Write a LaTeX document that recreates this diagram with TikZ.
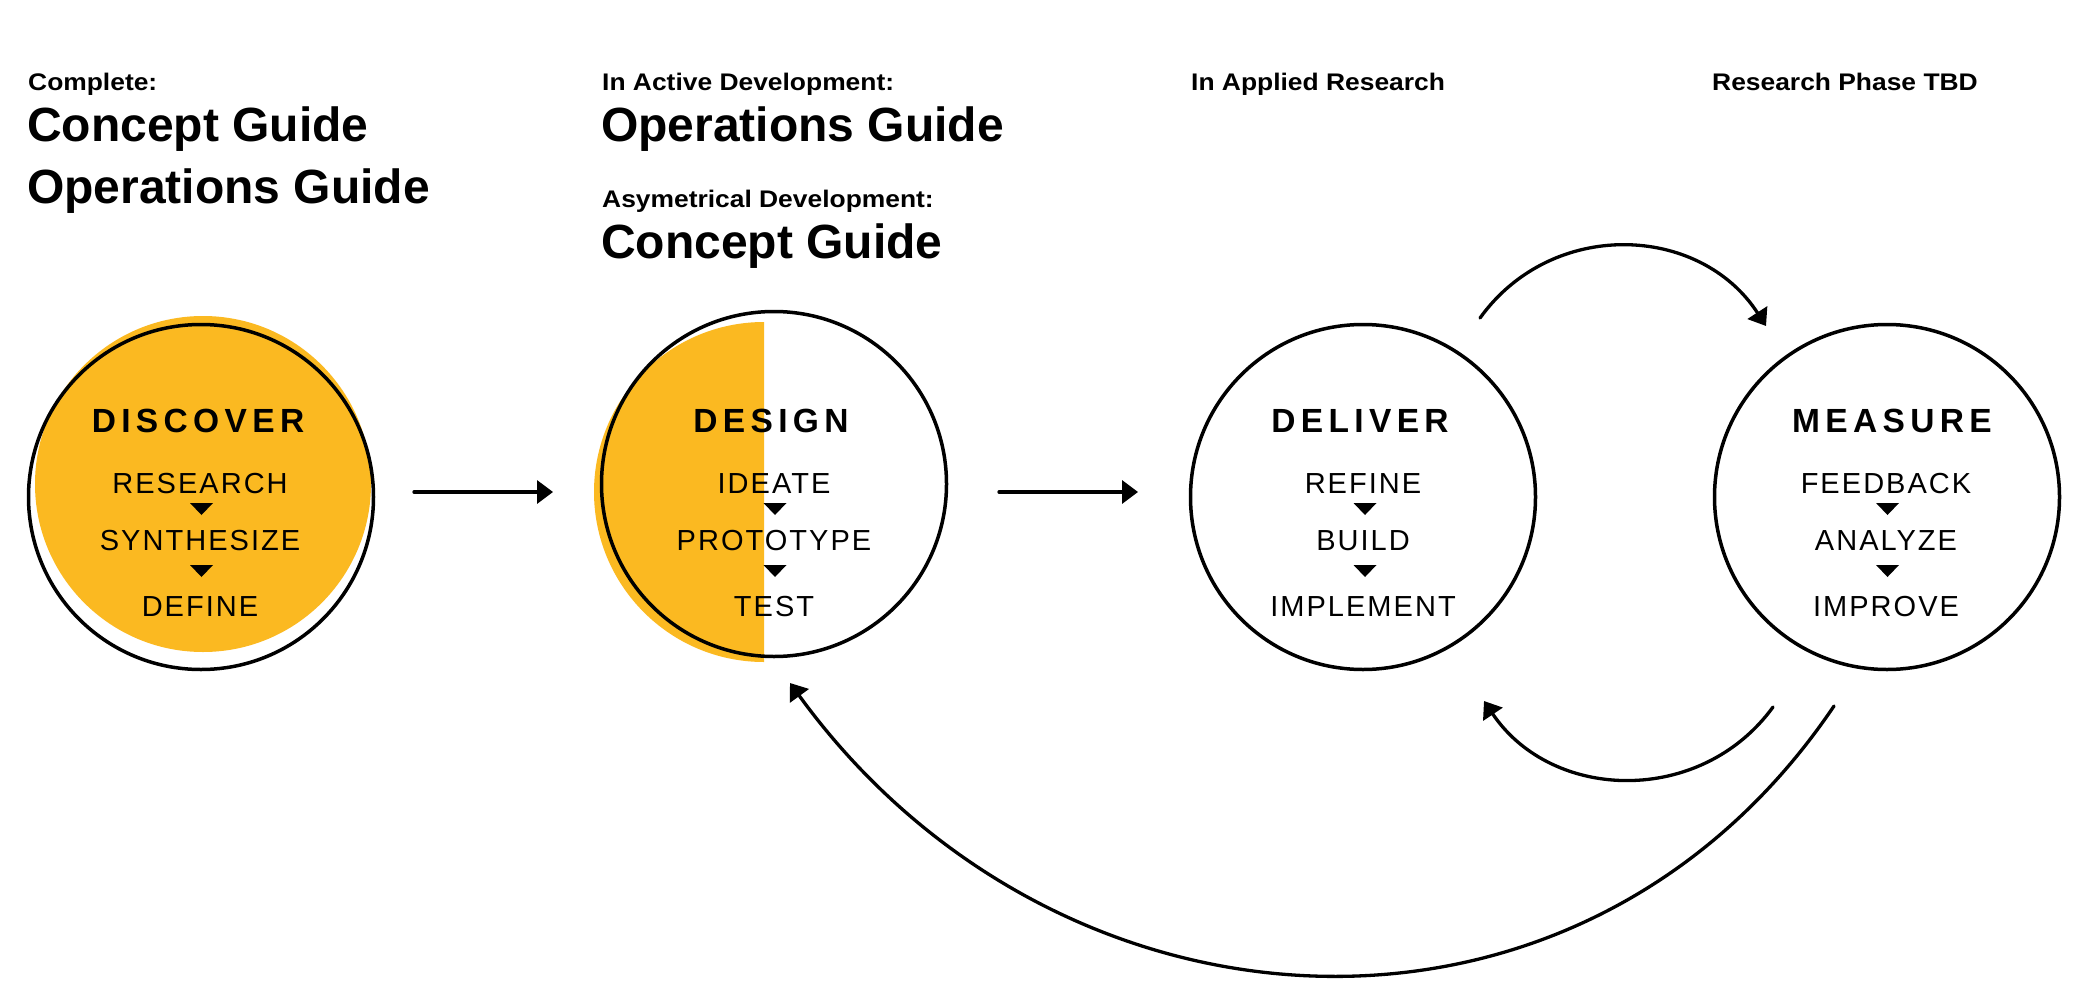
\documentclass[tikz,border=0pt]{standalone}
\usepackage{fontspec}
\setmainfont{Liberation Sans}
\newfontfamily\headsmall[FakeStretch=1.1]{Liberation Sans}
\newfontfamily\circtitle[LetterSpace=16]{Liberation Sans}
\newfontfamily\circsub[LetterSpace=7]{Liberation Sans}
\usetikzlibrary{arrows.meta}
\definecolor{yel}{RGB}{251,185,33}
\begin{document}
\begin{tikzpicture}[x=1pt,y=-1pt,
  hsmall/.style={anchor=base west, inner sep=0pt, font=\headsmall\bfseries\fontsize{24}{28}\selectfont},
  hbig/.style={anchor=base west, inner sep=0pt, font=\bfseries\fontsize{48}{52}\selectfont},
  stage/.style={circle, draw, line width=3.5pt, minimum size=345pt, inner sep=0pt},
  ttl/.style={anchor=base, inner sep=0pt, font=\circtitle\bfseries\fontsize{33.5}{36}\selectfont},
  sub/.style={anchor=base, inner sep=0pt, font=\circsub\fontsize{29}{32}\selectfont},
  flow/.style={line width=3.3pt, line cap=round, -{Triangle[length=16pt,width=23pt]}},
  tri/.pic={\fill (-11.5,-6) -- (11.5,-6) -- (0,6) -- cycle;}
]
\useasboundingbox (0,0) rectangle (2082,1006);
\fill[white] (0,0) rectangle (2082,1006);

% headings
\node[hsmall] (h1) at (28,91) {Complete:};
\node[hbig] (h2) at (27,142) {Concept Guide};
\node[hbig] (h3) at (27,203) {Operations Guide};
\node[hsmall] (h4) at (602,91) {In Active Development:};
\node[hbig] (h5) at (601,142) {Operations Guide};
\node[hsmall] (h6) at (602,207) {Asymetrical Development:};
\node[hbig] (h7) at (601,258) {Concept Guide};
\node[hsmall] (h8) at (1191,91) {In Applied Research};
\node[hsmall] (h9) at (1712,91) {Research Phase TBD};

% yellow fills
\fill[yel] (203,484) circle[radius=168pt];
\begin{scope}
  \clip (560,300) rectangle (764,700);
  \fill[yel] (764,492) circle[radius=170pt];
\end{scope}

% stage circles
\node[stage] (discover) at (201,497) {};
\node[stage] (design) at (774,484) {};
\node[stage] (deliver) at (1363,497) {};
\node[stage] (measure) at (1887,497) {};

% DISCOVER
\node[ttl] (d0) at (198,432) {DISCOVER};
\node[sub] (d1) at (200,493) {RESEARCH};
\pic at (201.5,509) {tri};
\node[sub] (d2) at (200,550) {SYNTHESIZE};
\pic at (201.5,571) {tri};
\node[sub] (d3) at (200,616) {DEFINE};

% DESIGN
\node[ttl] (e0) at (771,432) {DESIGN};
\node[sub] (e1) at (774,493) {IDEATE};
\pic at (775,509) {tri};
\node[sub] (e2) at (774,550) {PROTOTYPE};
\pic at (775,571) {tri};
\node[sub] (e3) at (774,616) {TEST};

% DELIVER
\node[ttl] (l0) at (1360,432) {DELIVER};
\node[sub] (l1) at (1363,493) {REFINE};
\pic at (1365,509) {tri};
\node[sub] (l2) at (1363,550) {BUILD};
\pic at (1365,571) {tri};
\node[sub] (l3) at (1363,616) {IMPLEMENT};

% MEASURE
\node[ttl] (m0) at (1892,432) {MEASURE};
\node[sub] (m1) at (1886,493) {FEEDBACK};
\pic at (1887.5,509) {tri};
\node[sub] (m2) at (1886,550) {ANALYZE};
\pic at (1887.5,571) {tri};
\node[sub] (m3) at (1886,616) {IMPROVE};

% connectors
\coordinate (a1s) at (414,492);
\coordinate (a1e) at (553,492);
\coordinate (a2s) at (999,492);
\coordinate (a2e) at (1138,492);
\coordinate (t1) at (1480,318);
\coordinate (t2) at (1766,326);
\coordinate (s1) at (1773,707);
\coordinate (s2) at (1484,701);
\coordinate (b1) at (1834,706);
\coordinate (b2) at (790,683);

\draw[flow] (a1s) -- (a1e);
\draw[flow] (a2s) -- (a2e);
\draw[flow] (t1) .. controls (1552,218) and (1700,224) .. (t2);
\draw[flow] (s1) .. controls (1701,806) and (1552,802) .. (s2);
\draw[flow] (b1) .. controls (1579,1084) and (1058,1052) .. (b2);
\end{tikzpicture}
\end{document}
